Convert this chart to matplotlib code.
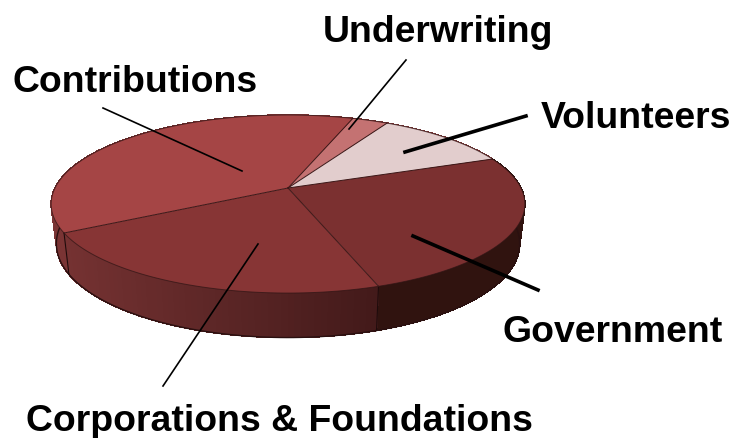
import numpy as np
import matplotlib
matplotlib.use("Agg")
from matplotlib import pyplot as plt
from matplotlib.colors import to_rgb

# shares of the pie, clockwise from the top
labels = ["Underwriting", "Volunteers", "Government", "Corporations & Foundations", "Contributions"]
shares = [2.9, 11.0, 25.6, 22.3, 38.2]
top_colors = ["#c47272", "#e2cdcd", "#7b3030", "#873535", "#a54545"]
side_left = ["#7a3434", "#7a3434", "#30130f", "#753232", "#7a3434"]
side_right = ["#7a3434", "#7a3434", "#30130f", "#431a1a", "#7a3434"]

label_x = [323, 541, 503, 26, 13]
label_y = [42, 128, 342, 431, 92]
lead_from = [(406, 60), (526, 116), (538, 290), (163, 386), (103, 108)]
lead_to = [(349, 129), (405, 152), (413, 236), (258, 244), (242, 171)]
lead_w = [1.2, 2.6, 2.6, 1.2, 1.2]

start_angle = 71.0


def top_pt(deg, r=1.0):
    # circle seen in perspective, pixel coords
    th = np.radians(deg)
    X, Y = r * np.cos(th), r * np.sin(th)
    w = 1 + 0.18 * Y
    return 288 + 233 * X / w, (188 - 52.3 * Y) / w


def bottom_pt(deg):
    th = np.radians(deg)
    x, y = top_pt(deg)
    return 288 + (x - 288) * 0.978, y + 38.5 - 6 * np.sin(th)


fig = plt.figure(figsize=(7.36, 4.38), dpi=100)
ax = fig.add_axes([0, 0, 1, 1])
ax.set_xlim(0, 736)
ax.set_ylim(438, 0)
ax.axis("off")

edges = start_angle - np.cumsum([0] + shares) * 3.6

# side wall first, top face goes over it
for i in range(len(shares)):
    a = np.linspace(edges[i], edges[i + 1], 60)
    tx, ty = top_pt(a)
    bx, by = bottom_pt(a)
    # gradient runs left to right on screen
    c0 = np.array(to_rgb(side_left[i]))
    c1 = np.array(to_rgb(side_right[i]))
    for j in range(len(a) - 1):
        f = (tx[j] - tx.min()) / max(tx.max() - tx.min(), 1)
        c = c0 + (c1 - c0) * f
        # no antialiasing, otherwise the seams show as stripes
        ax.fill([tx[j], tx[j + 1], bx[j + 1], bx[j]],
                [ty[j], ty[j + 1], by[j + 1], by[j]],
                facecolor=c, edgecolor=c, lw=0.5, antialiased=False, zorder=1)
    ax.plot(bx, by, color="#2a1010", lw=1.0, zorder=2)

for e in edges[:-1]:
    tx, ty = top_pt(e)
    bx, by = bottom_pt(e)
    if np.sin(np.radians(e)) < 0:
        ax.plot([tx, bx], [ty, by], color="#1e0b0b", lw=0.8, zorder=2)

# outer left and right silhouette of the wall
for e in [172.0, 8.0]:
    tx, ty = top_pt(e)
    bx, by = bottom_pt(e)
    ax.plot([tx, bx], [ty, by], color="#2a1010", lw=0.6, zorder=2)

apex = top_pt(0, 0)
for i in range(len(shares)):
    a = np.linspace(edges[i], edges[i + 1], 80)
    tx, ty = top_pt(a)
    ax.fill(np.r_[apex[0], tx], np.r_[apex[1], ty], color=top_colors[i], lw=0, zorder=3)
    ax.plot(tx, ty, color="#2e1414", lw=0.7, alpha=0.7, zorder=4)

for e in edges[:-1]:
    tx, ty = top_pt(e)
    ax.plot([apex[0], tx], [apex[1], ty], color="#3a1616", lw=0.7, zorder=4)

for i in range(len(labels)):
    ax.plot([lead_from[i][0], lead_to[i][0]], [lead_from[i][1], lead_to[i][1]],
            color="black", lw=lead_w[i], zorder=5)
    ax.text(label_x[i], label_y[i], labels[i], fontsize=26.9, fontweight="bold",
            family="Liberation Sans", color="black", ha="left", va="baseline", zorder=6)

fig.savefig("out.png", dpi=100)
